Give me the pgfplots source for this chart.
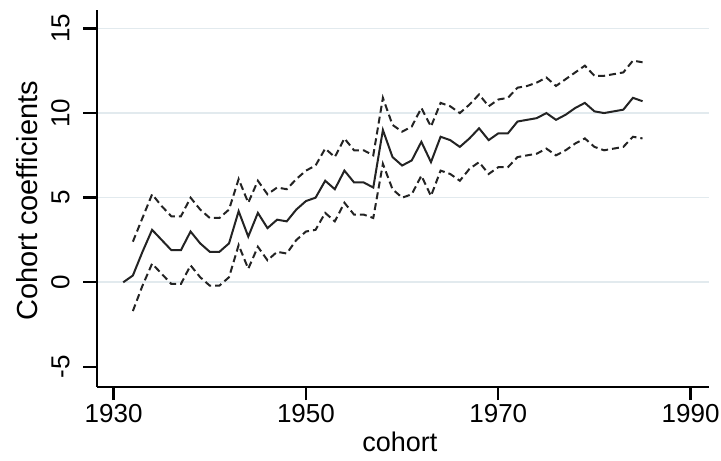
\documentclass[border=0pt]{standalone}
\usepackage{pgfplots}
\pgfplotsset{compat=1.18}
\usepackage{fontspec}
\setmainfont{Liberation Sans}

\definecolor{gridc}{RGB}{226,234,238}
\definecolor{linec}{RGB}{35,35,35}

\pgfplotstableread{
year  coef  upper  lower
1931  0.0   nan    nan
1932  0.4   2.4   -1.7
1933  1.8   3.8   -0.2
1934  3.1   5.2    1.1
1935  2.5   4.5    0.5
1936  1.9   3.9   -0.1
1937  1.9   3.9   -0.1
1938  3.0   5.0    1.0
1939  2.3   4.3    0.3
1940  1.8   3.8   -0.2
1941  1.8   3.8   -0.2
1942  2.3   4.3    0.3
1943  4.2   6.1    2.2
1944  2.7   4.7    0.8
1945  4.1   6.0    2.1
1946  3.2   5.2    1.3
1947  3.7   5.6    1.8
1948  3.6   5.5    1.7
1949  4.3   6.1    2.5
1950  4.8   6.6    3.0
1951  5.0   6.9    3.1
1952  6.0   7.9    4.1
1953  5.5   7.4    3.6
1954  6.6   8.5    4.7
1955  5.9   7.8    4.0
1956  5.9   7.8    4.0
1957  5.6   7.5    3.8
1958  9.0  10.9    7.0
1959  7.4   9.3    5.5
1960  6.9   8.9    5.0
1961  7.2   9.2    5.2
1962  8.3  10.3    6.3
1963  7.1   9.2    5.1
1964  8.6  10.6    6.6
1965  8.4  10.4    6.4
1966  8.0  10.0    6.0
1967  8.5  10.5    6.7
1968  9.1  11.1    7.1
1969  8.4  10.4    6.4
1970  8.8  10.8    6.8
1971  8.8  10.9    6.8
1972  9.5  11.5    7.4
1973  9.6  11.6    7.5
1974  9.7  11.8    7.6
1975 10.0  12.1    7.9
1976  9.6  11.6    7.5
1977  9.9  12.0    7.8
1978 10.3  12.4    8.2
1979 10.6  12.8    8.5
1980 10.1  12.2    8.0
1981 10.0  12.2    7.8
1982 10.1  12.3    7.9
1983 10.2  12.4    8.0
1984 10.9  13.1    8.6
1985 10.7  13.0    8.5
}\coefs

\begin{document}
\begin{tikzpicture}
\path[use as bounding box] (-48.35pt,-36.65pt) rectangle (312.15pt,193.35pt);
\begin{axis}[
    at={(0,0)}, anchor=south west,
    scale only axis,
    width=306.15pt, height=188.35pt,
    xmin=1928.24, xmax=1991.91,
    ymin=-6.17, ymax=16.09,
    axis lines=left,
    axis line style={-, black, line width=1.2pt},
    tick align=outside,
    major tick length=6.7pt,
    tick style={black, line width=1.2pt},
    xtick={1930,1950,1970,1990},
    ytick={0,5,10,15},
    extra y ticks={-5},
    extra y tick style={grid=none},
    ymajorgrids=true,
    grid style={gridc, line width=0.8pt},
    unbounded coords=jump,
    /pgf/number format/assume math mode=true,
    /pgf/number format/1000 sep={},
    tick label style={font=\fontsize{13}{13}\selectfont, black},
    yticklabel style={rotate=90, anchor=south, inner sep=0pt},
    yticklabel shift=6.6pt,
    xticklabel style={anchor=north, inner sep=0pt},
    xticklabel shift=2pt,
    label style={black},
    xlabel={cohort},
    ylabel={Cohort coefficients},
    xlabel style={font=\fontsize{13.5}{13.5}\selectfont, at={(axis description cs:0.4953,-0.1203)}, anchor=north, inner sep=0pt},
    ylabel style={font=\fontsize{14.5}{14.5}\selectfont, at={(axis description cs:-0.0955,0.493)}, anchor=south, inner sep=0pt},
]
% point estimates, 1931 is the reference cohort
\addplot[linec, line width=1pt] table[x=year, y=coef] {\coefs};
% 95% bands
\addplot[linec, line width=1pt, dash pattern=on 3.5pt off 2pt] table[x=year, y=upper] {\coefs};
\addplot[linec, line width=1pt, dash pattern=on 3.5pt off 2pt] table[x=year, y=lower] {\coefs};
\end{axis}
\end{tikzpicture}
\end{document}
